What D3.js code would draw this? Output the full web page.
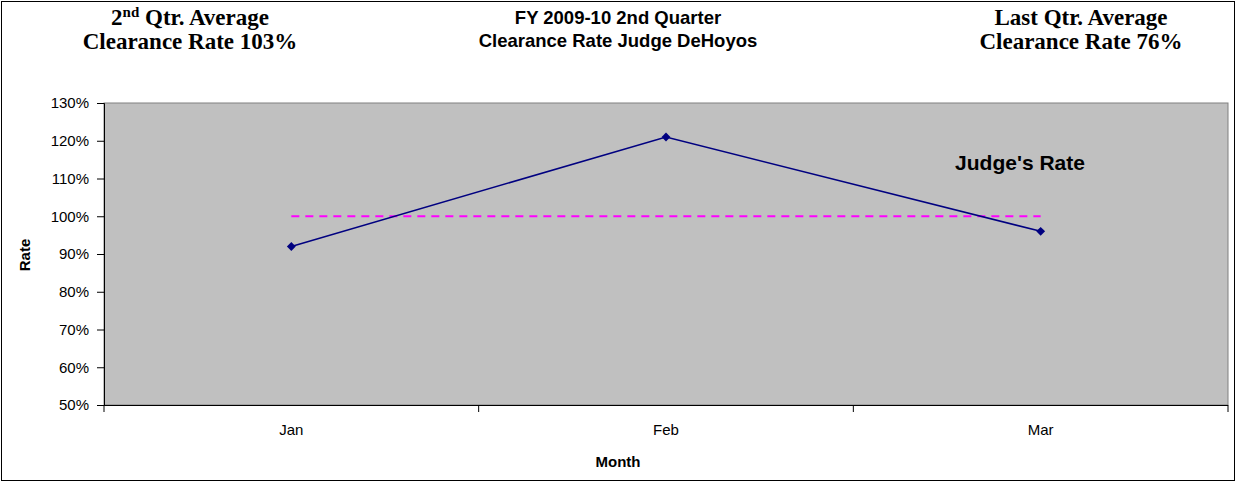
<!DOCTYPE html>
<html>
<head>
<meta charset="utf-8">
<script src="https://cdn.jsdelivr.net/npm/d3@7"></script>
<style>
  body { margin: 0; background: #fff; }
  text { font-family: "Liberation Sans", Arial, sans-serif; fill: #000; }
  .serif { font-family: "Liberation Serif", "Times New Roman", serif; }
</style>
</head>
<body>
<div id="chart"></div>
<script>
// data
const months = ["Jan", "Feb", "Mar"];
const judgeRate = [0.92, 1.21, 0.96];
const targetRate = [1.00, 1.00, 1.00];
const yTicks = [0.5, 0.6, 0.7, 0.8, 0.9, 1.0, 1.1, 1.2, 1.3];

const W = 1236, H = 482;
const plot = { left: 104, right: 1228, top: 103, bottom: 405 };

const svg = d3.select("#chart")
    .append("svg")
    .attr("width", W)
    .attr("height", H);

// chart border
svg.append("rect")
    .attr("x", 1.5).attr("y", 1.5)
    .attr("width", W - 3).attr("height", H - 3)
    .attr("fill", "#fff")
    .attr("stroke", "#000")
    .attr("stroke-width", 1);

const x = d3.scaleBand()
    .domain(months)
    .range([plot.left, plot.right])
    .padding(0);

const y = d3.scaleLinear()
    .domain([0.5, 1.3])
    .range([plot.bottom, plot.top]);

// plot background
svg.append("rect")
    .attr("x", plot.left).attr("y", plot.top)
    .attr("width", plot.right - plot.left)
    .attr("height", plot.bottom - plot.top)
    .attr("fill", "#c0c0c0")
    .attr("stroke", "#808080")
    .attr("stroke-width", 1);

// Y axis
const yAxis = svg.append("g")
    .attr("transform", "translate(" + plot.left + ",0)")
    .call(d3.axisLeft(y).tickValues(yTicks).tickSize(7).tickPadding(8)
        .tickFormat(d3.format(".0%")));
yAxis.select(".domain").attr("stroke", "#000");
yAxis.selectAll("text").style("font-size", "15px").attr("font-family", null);

// X axis (ticks between categories)
const xAxis = svg.append("g")
    .attr("transform", "translate(0," + plot.bottom + ")")
    .call(d3.axisBottom(x).tickSize(0).tickPadding(19));
xAxis.select(".domain").attr("stroke", "#000").attr("d", "M" + plot.left + ",0.5H" + plot.right);
xAxis.selectAll("text").style("font-size", "15px").attr("font-family", null);
xAxis.selectAll(".sep")
    .data([0, 1, 2, 3])
    .enter().append("line")
    .attr("class", "sep")
    .attr("x1", i => plot.left + i * x.bandwidth())
    .attr("x2", i => plot.left + i * x.bandwidth())
    .attr("y1", 0).attr("y2", 7)
    .attr("stroke", "#000");

// target line
const line = d3.line()
    .x((d, i) => x(months[i]) + x.bandwidth() / 2)
    .y(d => y(d));

svg.append("path")
    .datum(targetRate)
    .attr("d", line)
    .attr("fill", "none")
    .attr("stroke", "#ff00ff")
    .attr("stroke-width", 2)
    .attr("stroke-dasharray", "8,6");

// judge's rate
svg.append("path")
    .datum(judgeRate)
    .attr("d", line)
    .attr("fill", "none")
    .attr("stroke", "#000080")
    .attr("stroke-width", 1.5);

svg.append("g")
    .selectAll("path")
    .data(judgeRate)
    .enter().append("path")
    .attr("d", d3.symbol().type(d3.symbolDiamond2).size(50))
    .attr("transform", (d, i) => "translate(" + (x(months[i]) + x.bandwidth() / 2) + "," + y(d) + ")")
    .attr("fill", "#000080");

// labels
svg.append("text")
    .attr("x", 1020).attr("y", 170)
    .attr("text-anchor", "middle")
    .style("font-size", "21px").style("font-weight", "bold")
    .text("Judge's Rate");

svg.append("text")
    .attr("x", 618).attr("y", 467)
    .attr("text-anchor", "middle")
    .style("font-size", "15px").style("font-weight", "bold")
    .text("Month");

svg.append("text")
    .attr("transform", "translate(30,255) rotate(-90)")
    .attr("text-anchor", "middle")
    .style("font-size", "15px").style("font-weight", "bold")
    .text("Rate");

// titles
const center = svg.append("text")
    .attr("text-anchor", "middle")
    .style("font-size", "18.5px").style("font-weight", "bold");
center.append("tspan").attr("x", 618).attr("y", 24).text("FY 2009-10 2nd Quarter");
center.append("tspan").attr("x", 618).attr("y", 47).text("Clearance Rate Judge DeHoyos");

const left = svg.append("text")
    .attr("class", "serif")
    .attr("text-anchor", "middle")
    .style("font-size", "23px").style("font-weight", "bold");
const l1 = left.append("tspan").attr("x", 190).attr("y", 25);
l1.append("tspan").text("2");
l1.append("tspan").attr("dy", -8).style("font-size", "15px").text("nd");
l1.append("tspan").attr("dy", 8).text(" Qtr. Average");
left.append("tspan").attr("x", 190).attr("y", 49).text("Clearance Rate 103%");

const right = svg.append("text")
    .attr("class", "serif")
    .attr("text-anchor", "middle")
    .style("font-size", "23px").style("font-weight", "bold");
right.append("tspan").attr("x", 1081).attr("y", 25).text("Last Qtr. Average");
right.append("tspan").attr("x", 1081).attr("y", 49).text("Clearance Rate 76%");
</script>
</body>
</html>
